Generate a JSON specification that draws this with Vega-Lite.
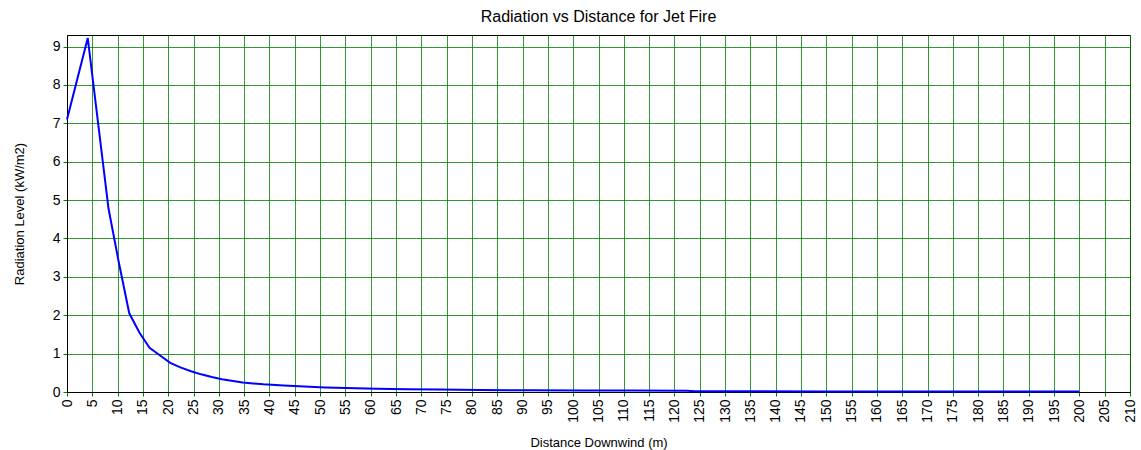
{
  "$schema": "https://vega.github.io/schema/vega-lite/v6.json",
  "width": 1063,
  "height": 357,
  "autosize": "none",
  "padding": {"left": 67, "top": 35, "right": 11, "bottom": 58},
  "background": "white",
  "title": {
    "text": "Radiation vs Distance for Jet Fire",
    "font": "Liberation Sans",
    "fontSize": 16,
    "fontWeight": "normal",
    "color": "#000000",
    "anchor": "middle",
    "offset": 9
  },
  "data": {
    "values": [
      {"d": 0, "r": 7.1},
      {"d": 4.1, "r": 9.22},
      {"d": 8.2, "r": 4.78},
      {"d": 10.2, "r": 3.4},
      {"d": 12.3, "r": 2.05},
      {"d": 14.3, "r": 1.55},
      {"d": 16.3, "r": 1.15},
      {"d": 18.4, "r": 0.95},
      {"d": 20.4, "r": 0.76},
      {"d": 22.4, "r": 0.64},
      {"d": 24.5, "r": 0.54},
      {"d": 26.5, "r": 0.46},
      {"d": 28.6, "r": 0.39},
      {"d": 30.6, "r": 0.33},
      {"d": 34.7, "r": 0.25},
      {"d": 38.8, "r": 0.2},
      {"d": 42.8, "r": 0.17},
      {"d": 46.9, "r": 0.145},
      {"d": 51, "r": 0.12},
      {"d": 55.1, "r": 0.105},
      {"d": 61.2, "r": 0.085},
      {"d": 67.3, "r": 0.072},
      {"d": 73.4, "r": 0.062},
      {"d": 81.6, "r": 0.052},
      {"d": 91.8, "r": 0.045},
      {"d": 102, "r": 0.04},
      {"d": 112, "r": 0.036},
      {"d": 122.5, "r": 0.032},
      {"d": 124, "r": 0.02},
      {"d": 150, "r": 0.016},
      {"d": 175, "r": 0.013},
      {"d": 200, "r": 0.011}
    ]
  },
  "mark": {"type": "line", "color": "#0000ff", "strokeWidth": 2},
  "encoding": {
    "x": {
      "field": "d",
      "type": "quantitative",
      "scale": {"domain": [0, 210], "nice": false, "zero": false},
      "axis": {
        "title": "Distance Downwind (m)",
        "values": [0,5,10,15,20,25,30,35,40,45,50,55,60,65,70,75,80,85,90,95,100,105,110,115,120,125,130,135,140,145,150,155,160,165,170,175,180,185,190,195,200,205,210],
        "labelAngle": -90,
        "labelPadding": 3,
        "labelFlush": false,
        "titlePadding": 14
      }
    },
    "y": {
      "field": "r",
      "type": "quantitative",
      "scale": {"domain": [0, 9.3], "nice": false},
      "axis": {
        "title": "Radiation Level (kW/m2)",
        "values": [0,1,2,3,4,5,6,7,8,9],
        "labelPadding": 3,
        "labelFlush": false,
        "titlePadding": 26
      }
    }
  },
  "config": {
    "view": {"stroke": "#000000", "strokeWidth": 1},
    "axis": {
      "grid": true,
      "gridColor": "#008000",
      "gridOpacity": 0.8,
      "gridWidth": 1,
      "domainColor": "#000000",
      "domainWidth": 1,
      "tickColor": "#008000",
      "tickSize": 4,
      "labelFont": "Liberation Sans",
      "labelFontSize": 14,
      "labelColor": "#000000",
      "titleFont": "Liberation Sans",
      "titleFontSize": 13,
      "titleFontWeight": "normal",
      "titleColor": "#000000"
    }
  }
}
